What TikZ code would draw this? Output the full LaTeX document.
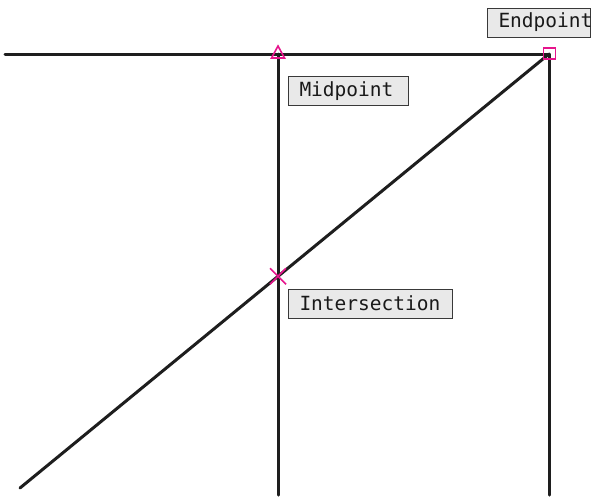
\documentclass[tikz,border=0pt]{standalone}
\usetikzlibrary{calc}
\usepackage{fontspec}
\setmonofont{DejaVu Sans Mono}
\definecolor{mag}{RGB}{230,20,140}
\definecolor{ln}{RGB}{30,30,30}
\tikzset{
  seg/.style={draw=ln, line width=3pt, line cap=round},
  lbl/.style={draw=gray!45!black, line width=1pt, fill=gray!17, font=\ttfamily\fontsize{19.5}{21}\selectfont, text=black!90, inner xsep=11pt, inner ysep=0pt, anchor=west, align=left, minimum height=29pt},
  mk/.style={draw=mag, line width=1.6pt}
}
\begin{document}
\begin{tikzpicture}[x=1pt,y=-1pt]
\useasboundingbox (0,0) rectangle (596,499);
\coordinate (hl) at (5,54);
\coordinate (mid) at (278,54);
\coordinate (endp) at (549,54);
\coordinate (mb) at (278,495);
\coordinate (eb) at (549,495);
\coordinate (dl) at (20,488);
\coordinate (ix) at (278,276.3);
\draw[seg] (hl) -- (endp);
\draw[seg] (mid) -- (mb);
\draw[seg] (endp) -- (eb);
\draw[seg] (dl) -- (endp);
% markers
\draw[mk, line join=miter] ($(mid)+(-6.5,4)$) -- ($(mid)+(6.5,4)$) -- ($(mid)+(0,-8)$) -- cycle;
\draw[mk] ($(endp)+(-5.5,-6)$) rectangle ($(endp)+(6.5,5)$);
\draw[mk] ($(ix)+(-8,-8)$) -- ($(ix)+(8,8)$);
\draw[mk] ($(ix)+(-8,8)$) -- ($(ix)+(8,-8)$);
% labels
\node[lbl, text width=81pt] (le) at (487,22.5) {Endpoint};
\node[lbl, text width=98pt] (lm) at (288,91) {Midpoint};
\node[lbl, text width=142pt] (li) at (288,303.5) {Intersection};
\end{tikzpicture}
\end{document}
